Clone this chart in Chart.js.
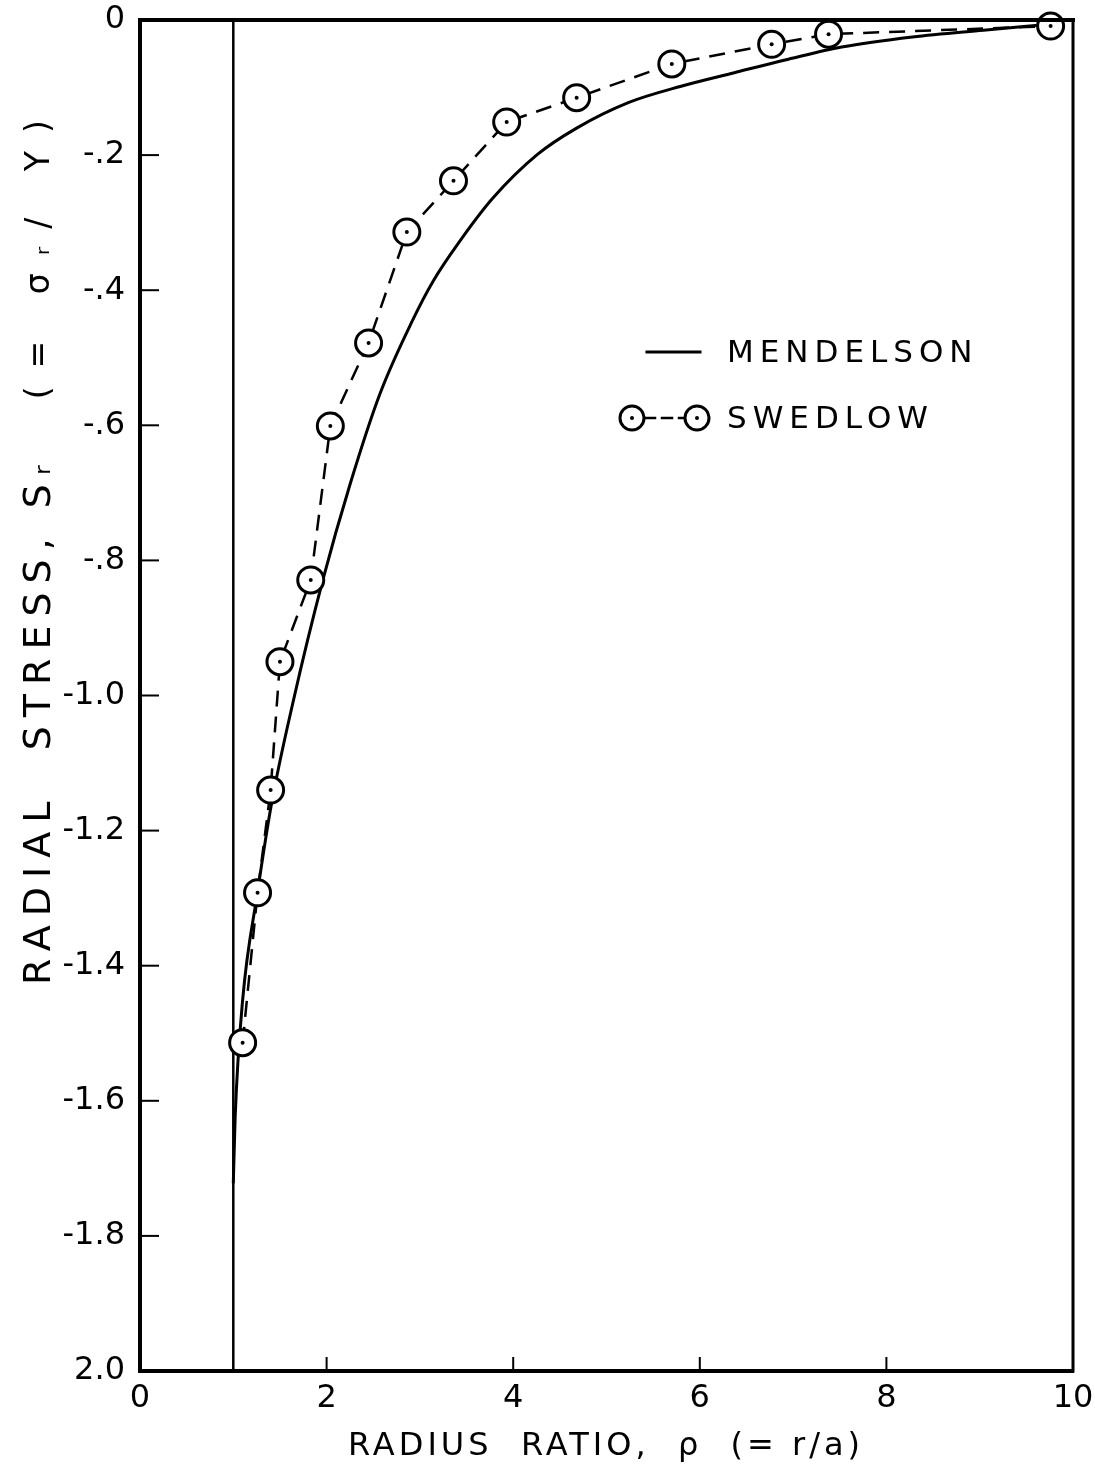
<!DOCTYPE html>
<html>
<head>
<meta charset="utf-8">
<script src="https://cdn.jsdelivr.net/npm/chart.js@4/dist/chart.umd.min.js"></script>
<style>
  html, body { margin: 0; padding: 0; background: #fff; }
  #wrap { position: relative; width: 1095px; height: 1478px; }
</style>
</head>
<body>
<div id="wrap"><canvas id="chart" width="1095" height="1478"></canvas></div>
<script>
// Mendelson solution (solid curve)
const mendelsonX = [1.00, 1.02, 1.10, 1.26, 1.41, 1.64, 1.96, 2.25, 2.57, 2.92, 3.14, 3.43, 3.78, 4.26, 4.68, 5.24, 5.80, 6.37, 6.95, 7.52, 8.28, 9.04, 9.69];
const mendelsonY = [-1.722, -1.624, -1.451, -1.291, -1.160, -1.010, -0.829, -0.688, -0.554, -0.445, -0.387, -0.327, -0.264, -0.199, -0.160, -0.122, -0.098, -0.078, -0.058, -0.040, -0.025, -0.015, -0.007];

// Swedlow results (circles, dashed)
const swedlowX = [1.10, 1.26, 1.40, 1.50, 1.83, 2.04, 2.45, 2.86, 3.36, 3.93, 4.68, 5.70, 6.77, 7.38, 9.76];
const swedlowY = [-1.514, -1.292, -1.140, -0.950, -0.829, -0.601, -0.478, -0.314, -0.238, -0.151, -0.115, -0.065, -0.036, -0.021, -0.009];

// hole boundary at rho = 1
const wallX = [1, 1];
const wallY = [0, -2];

// y tick labels from -2.0 up to 0 (as printed on the original)
const yTickLabels = ['2.0', '-1.8', '-1.6', '-1.4', '-1.2', '-1.0', '-.8', '-.6', '-.4', '-.2', '0'];
const xTickLabels = ['0', '2', '4', '6', '8', '10'];

const legendLabels = ['MENDELSON', 'SWEDLOW'];
const xTitle = 'RADIUS  RATIO,  ρ  (= r/a)';
const yTitle = ['RADIAL  STRESS, Sᵣ', '  (= σᵣ/ Y)'];

const toPoints = (xs, ys) => xs.map((x, i) => ({ x, y: ys[i] }));

const FONT = "'DejaVu Sans', sans-serif";

// frame, inward ticks, legend and axis titles
const decorPlugin = {
  id: 'decor',
  afterDraw(chart) {
    const { ctx, chartArea: a, scales: { x, y } } = chart;
    ctx.save();
    ctx.strokeStyle = '#000';
    ctx.fillStyle = '#000';
    ctx.lineCap = 'square';

    // top and right sides of the frame
    ctx.lineWidth = 4;
    ctx.beginPath();
    ctx.moveTo(a.left, a.top);
    ctx.lineTo(a.right, a.top);
    ctx.stroke();
    ctx.lineWidth = 3;
    ctx.beginPath();
    ctx.moveTo(a.right, a.top);
    ctx.lineTo(a.right, a.bottom);
    ctx.stroke();

    // inward ticks
    ctx.lineWidth = 2;
    y.ticks.forEach(t => {
      if (t.value <= -2 || t.value >= 0) return;
      const py = y.getPixelForValue(t.value);
      ctx.beginPath();
      ctx.moveTo(a.left, py);
      ctx.lineTo(a.left + 18, py);
      ctx.stroke();
    });
    x.ticks.forEach(t => {
      if (t.value <= 0 || t.value >= 10) return;
      const px = x.getPixelForValue(t.value);
      ctx.beginPath();
      ctx.moveTo(px, a.bottom);
      ctx.lineTo(px, a.bottom - 13);
      ctx.stroke();
    });

    // legend
    ctx.font = '31px ' + FONT;
    ctx.textBaseline = 'middle';
    ctx.textAlign = 'left';
    ctx.letterSpacing = '6px';
    ctx.lineWidth = 3;
    ctx.beginPath();
    ctx.moveTo(647, 352);
    ctx.lineTo(700, 352);
    ctx.stroke();
    ctx.fillText(legendLabels[0], 727, 354);

    ctx.lineWidth = 2.5;
    ctx.setLineDash([10, 7]);
    ctx.beginPath();
    ctx.moveTo(645, 418);
    ctx.lineTo(685, 418);
    ctx.stroke();
    ctx.setLineDash([]);
    [632, 697].forEach(cx => {
      ctx.beginPath();
      ctx.arc(cx, 418, 12, 0, Math.PI * 2);
      ctx.fillStyle = '#fff';
      ctx.fill();
      ctx.lineWidth = 3;
      ctx.stroke();
      ctx.beginPath();
      ctx.arc(cx, 418, 2, 0, Math.PI * 2);
      ctx.fillStyle = '#000';
      ctx.fill();
    });
    ctx.fillText(legendLabels[1], 727, 420);

    // x axis title
    ctx.textAlign = 'center';
    ctx.font = '32px ' + FONT;
    ctx.letterSpacing = '4px';
    ctx.fillText(xTitle, 606, 1447);

    // y axis title, reading upward
    ctx.textAlign = 'left';
    ctx.translate(40, 985);
    ctx.rotate(-Math.PI / 2);
    ctx.font = '38px ' + FONT;
    ctx.letterSpacing = '9px';
    ctx.fillText(yTitle[0], 0, 0);
    const w = ctx.measureText(yTitle[0]).width;
    ctx.font = '33px ' + FONT;
    ctx.letterSpacing = '18px';
    ctx.fillText(yTitle[1], w, 0);
    ctx.restore();
  }
};

new Chart(document.getElementById('chart'), {
  type: 'scatter',
  data: {
    datasets: [
      {
        label: 'SWEDLOW centre',
        data: toPoints(swedlowX, swedlowY),
        showLine: false,
        pointRadius: 2,
        pointBackgroundColor: '#000',
        pointBorderWidth: 0,
        clip: false,
        order: 0
      },
      {
        label: 'SWEDLOW',
        data: toPoints(swedlowX, swedlowY),
        showLine: true,
        borderColor: '#000',
        borderWidth: 2.5,
        borderDash: [16, 10],
        pointRadius: 13,
        pointBorderWidth: 3,
        pointBorderColor: '#000',
        pointBackgroundColor: '#fff',
        clip: false,
        order: 1
      },
      {
        label: 'MENDELSON',
        data: toPoints(mendelsonX, mendelsonY),
        showLine: true,
        borderColor: '#000',
        borderWidth: 3,
        pointRadius: 0,
        cubicInterpolationMode: 'monotone',
        order: 2
      },
      {
        label: 'wall',
        data: toPoints(wallX, wallY),
        showLine: true,
        borderColor: '#000',
        borderWidth: 2.5,
        pointRadius: 0,
        order: 3
      }
    ]
  },
  options: {
    responsive: false,
    animation: false,
    layout: { padding: { top: 20, right: 22, left: 0, bottom: 0 } },
    plugins: {
      legend: { display: false },
      tooltip: { enabled: false }
    },
    scales: {
      x: {
        type: 'linear',
        min: 0,
        max: 10,
        afterFit: s => {
          s.height = 107;
          s.paddingLeft = 0;
          s.paddingRight = 0;
        },
        grid: { drawOnChartArea: false, drawTicks: false },
        border: { display: true, color: '#000', width: 4 },
        ticks: {
          stepSize: 2,
          color: '#000',
          padding: 8,
          font: { family: FONT, size: 32 },
          callback: v => xTickLabels[Math.round(v / 2)]
        }
      },
      y: {
        type: 'linear',
        min: -2,
        max: 0,
        afterFit: s => {
          s.width = 140;
          s.paddingTop = 0;
          s.paddingBottom = 0;
        },
        grid: { drawOnChartArea: false, drawTicks: false },
        border: { display: true, color: '#000', width: 4 },
        ticks: {
          stepSize: 0.2,
          color: '#000',
          padding: 15,
          font: { family: FONT, size: 32 },
          callback: v => yTickLabels[Math.round((v + 2) / 0.2)]
        }
      }
    }
  },
  plugins: [decorPlugin]
});
</script>
</body>
</html>
